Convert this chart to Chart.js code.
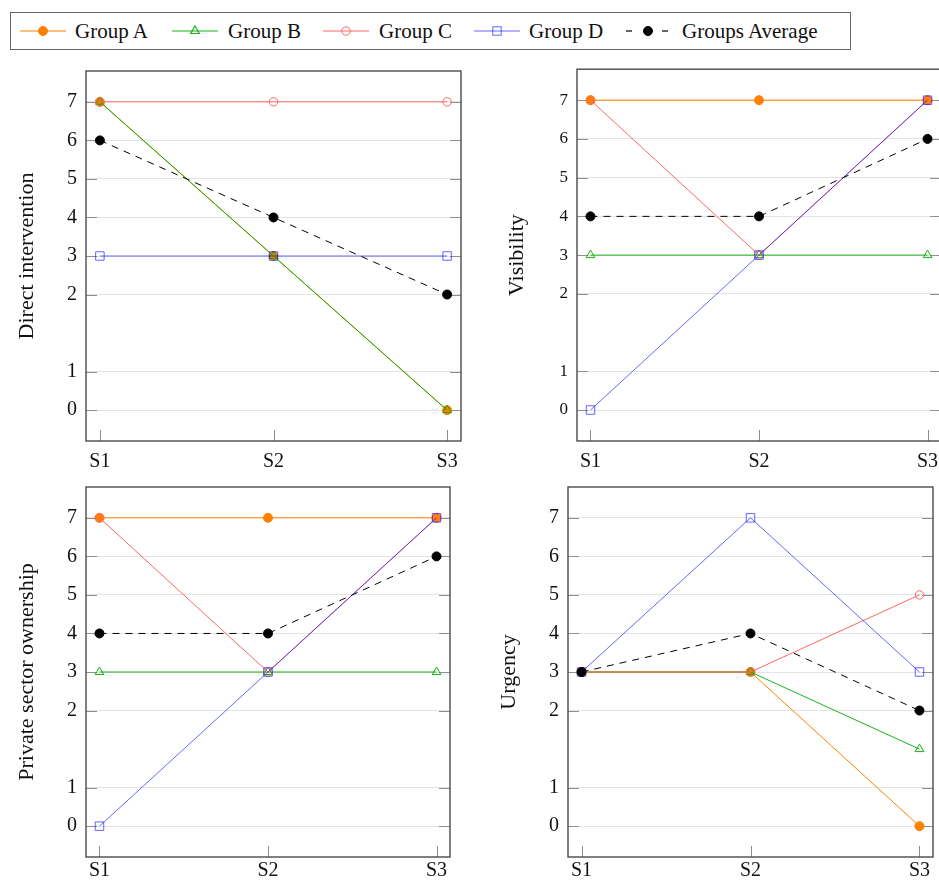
<!DOCTYPE html>
<html>
<head>
<meta charset="utf-8">
<script src="https://cdn.jsdelivr.net/npm/chart.js@4.4.1/dist/chart.umd.min.js"></script>
<style>
  body { margin: 0; width: 939px; height: 885px; overflow: hidden; background: #fff; position: relative; font-family: "Liberation Serif", serif; }
  .panel { position: absolute; }
  #legend { position: absolute; left: 10px; top: 12px; width: 839px; height: 36px; border: 1.5px solid #666; }
  .lg-text { position: absolute; top: 0; height: 36px; line-height: 36px; font-size: 21px; color: #111; white-space: nowrap; }
  .lg-icon { position: absolute; top: 8px; }
</style>
</head>
<body>
<div id="legend"></div>
<div class="panel" id="p0"><canvas id="c0"></canvas></div>
<div class="panel" id="p1"><canvas id="c1"></canvas></div>
<div class="panel" id="p2"><canvas id="c2"></canvas></div>
<div class="panel" id="p3"><canvas id="c3"></canvas></div>
<script>
// ---- data ----
const stages = ["S1", "S2", "S3"];
const yTickValues = [0, 1, 2, 3, 4, 5, 6, 7];
// where each tick sits on the axis: the axis has a double gap between 1 and 2
const yTickSlots = [0, 1, 3, 4, 5, 6, 7, 8];
const groupNames = ["Group A", "Group B", "Group C", "Group D", "Groups Average"];
const panelTitles = ["Direct intervention", "Visibility", "Private sector ownership", "Urgency"];

const directA = [7, 3, 0];
const directB = [7, 3, 0];
const directC = [7, 7, 7];
const directD = [3, 3, 3];
const directAvg = [6, 4, 2];

const visibilityA = [7, 7, 7];
const visibilityB = [3, 3, 3];
const visibilityC = [7, 3, 7];
const visibilityD = [0, 3, 7];
const visibilityAvg = [4, 4, 6];

const privateA = [7, 7, 7];
const privateB = [3, 3, 3];
const privateC = [7, 3, 7];
const privateD = [0, 3, 7];
const privateAvg = [4, 4, 6];

const urgencyA = [3, 3, 0];
const urgencyB = [3, 3, 1.5];
const urgencyC = [3, 3, 5];
const urgencyD = [3, 7, 3];
const urgencyAvg = [3, 4, 2];

const panelData = [
  [directA, directB, directC, directD, directAvg],
  [visibilityA, visibilityB, visibilityC, visibilityD, visibilityAvg],
  [privateA, privateB, privateC, privateD, privateAvg],
  [urgencyA, urgencyB, urgencyC, urgencyD, urgencyAvg]
];

// ---- styles ----
const FONT = '"Liberation Serif", serif';
const styles = [
  { color: 'rgb(255,128,0)', fill: 'rgb(255,128,0)', shape: 'circle', r: 4.5, dash: [] },
  { color: 'rgba(0,170,0,0.9)', fill: 'transparent', shape: 'triangle', r: 5, dash: [] },
  { color: 'rgb(255,102,102)', fill: 'transparent', shape: 'circle', r: 4.2, dash: [] },
  { color: 'rgba(0,0,255,0.6)', fill: 'transparent', shape: 'rect', r: 6, dash: [] },
  { color: '#000', fill: '#000', shape: 'circle', r: 4.5, dash: [7, 6] }
];

// canvas box and plot-area fit for each panel
const layouts = [
  { left: 0, top: 50, w: 470, h: 430, padRight: 9, yW: 86, xH: 39, yFont: 20, xPad: 1 },
  { left: 490, top: 50, w: 460, h: 430, padRight: 9, yW: 87, xH: 39, yFont: 17, xPad: 1 },
  { left: 0, top: 466, w: 460, h: 419, padRight: 10, yW: 86, xH: 28, yFont: 20, xPad: -6 },
  { left: 482, top: 466, w: 460, h: 419, padRight: 9, yW: 86, xH: 28, yFont: 20, xPad: -6 }
];

function slot(v) {
  for (let i = 1; i < yTickValues.length; i++) {
    if (v <= yTickValues[i]) {
      const a = yTickValues[i - 1], b = yTickValues[i];
      return yTickSlots[i - 1] + (v - a) / (b - a) * (yTickSlots[i] - yTickSlots[i - 1]);
    }
  }
  return yTickSlots[yTickSlots.length - 1];
}

// inside tick marks + frame, like the original axes
const axisBox = {
  id: 'axisBox',
  beforeDatasetsDraw(chart) {
    const { ctx, chartArea: a, scales: { x, y } } = chart;
    ctx.save();
    ctx.strokeStyle = '#8f8f8f';
    ctx.lineWidth = 1;
    ctx.beginPath();
    y.ticks.forEach(t => {
      const py = Math.round(y.getPixelForValue(t.value)) + 0.5;
      ctx.moveTo(a.left, py); ctx.lineTo(a.left + 11, py);
      ctx.moveTo(a.right - 11, py); ctx.lineTo(a.right, py);
    });
    x.ticks.forEach(t => {
      const px = Math.round(x.getPixelForValue(t.value)) + 0.5;
      ctx.moveTo(px, a.bottom); ctx.lineTo(px, a.bottom - 11);
    });
    ctx.stroke();
    ctx.restore();
  },
  afterDraw(chart) {
    const { ctx, chartArea: a } = chart;
    ctx.save();
    ctx.strokeStyle = '#4a4a4a';
    ctx.lineWidth = 1.4;
    ctx.strokeRect(a.left, a.top, a.right - a.left, a.bottom - a.top);
    ctx.restore();
  }
};

panelData.forEach((series, k) => {
  const L = layouts[k];
  const box = document.getElementById('p' + k);
  box.style.left = L.left + 'px';
  box.style.top = L.top + 'px';
  box.style.width = L.w + 'px';
  box.style.height = L.h + 'px';

  const datasets = series.map((vals, i) => ({
    label: groupNames[i],
    data: vals.map((v, j) => ({ x: j, y: slot(v) })),
    borderColor: styles[i].color,
    borderWidth: 1,
    borderDash: styles[i].dash,
    pointStyle: styles[i].shape,
    pointRadius: styles[i].r,
    pointBorderWidth: 1,
    pointBorderColor: styles[i].color,
    pointBackgroundColor: styles[i].fill,
    tension: 0,
    fill: false,
    order: series.length - 1 - i
  }));

  new Chart(document.getElementById('c' + k), {
    type: 'line',
    data: { datasets },
    options: {
      responsive: true,
      maintainAspectRatio: false,
      animation: false,
      layout: { padding: { top: 0, right: L.padRight, left: 0, bottom: 0 } },
      plugins: { legend: { display: false }, tooltip: { enabled: false } },
      scales: {
        x: {
          type: 'linear', min: -0.08, max: 2.08,
          afterBuildTicks: s => { s.ticks = stages.map((_, i) => ({ value: i })); },
          afterFit: s => { s.height = L.xH; },
          grid: { display: false },
          border: { display: false },
          ticks: { callback: v => stages[v], font: { family: FONT, size: 20 }, color: '#111', padding: L.xPad, maxRotation: 0, autoSkip: false }
        },
        y: {
          type: 'linear', min: -0.8, max: 8.8,
          afterBuildTicks: s => { s.ticks = yTickSlots.map(v => ({ value: v })); },
          afterFit: s => { s.width = L.yW; },
          grid: { color: '#e4e4e4', drawTicks: false },
          border: { display: false },
          ticks: { callback: (v, i) => String(yTickValues[i]), font: { family: FONT, size: L.yFont }, color: '#111', padding: 9, autoSkip: false },
          title: { display: true, text: panelTitles[k], font: { family: FONT, size: 22 }, color: '#111', padding: { top: 14, bottom: 0 } }
        }
      }
    },
    plugins: [axisBox]
  });
});

// ---- legend ----
const legendIconX = [19, 171, 322, 473, 625];
const legendTextX = [74, 227, 378, 528, 681];
const legend = document.getElementById('legend');
function iconSvg(i) {
  const s = styles[i];
  let line = `<line x1="0" y1="10" x2="46" y2="10" stroke="${s.color}" stroke-width="1"/>`;
  if (i === 4) line = `<line x1="0" y1="10" x2="6" y2="10" stroke="#000" stroke-width="1.2"/><line x1="36" y1="10" x2="42" y2="10" stroke="#000" stroke-width="1.2"/>`;
  const cx = i === 4 ? 22 : 23;
  let mark;
  if (s.shape === 'circle') mark = `<circle cx="${cx}" cy="10" r="${s.r}" fill="${s.fill === 'transparent' ? 'none' : s.fill}" stroke="${s.color}" stroke-width="1"/>`;
  else if (s.shape === 'triangle') mark = `<polygon points="${cx},5 ${cx + 4.3},12.5 ${cx - 4.3},12.5" fill="none" stroke="${s.color}" stroke-width="1.2"/>`;
  else mark = `<rect x="${cx - 4.2}" y="5.8" width="8.4" height="8.4" fill="none" stroke="${s.color}" stroke-width="1"/>`;
  return `<svg width="46" height="20" xmlns="http://www.w3.org/2000/svg">${line}${mark}</svg>`;
}
groupNames.forEach((name, i) => {
  const ic = document.createElement('div');
  ic.className = 'lg-icon';
  ic.style.left = (legendIconX[i] - 10) + 'px';
  ic.innerHTML = iconSvg(i);
  legend.appendChild(ic);
  const tx = document.createElement('div');
  tx.className = 'lg-text';
  tx.style.left = (legendTextX[i] - 10) + 'px';
  tx.textContent = name;
  legend.appendChild(tx);
});
</script>
</body>
</html>
